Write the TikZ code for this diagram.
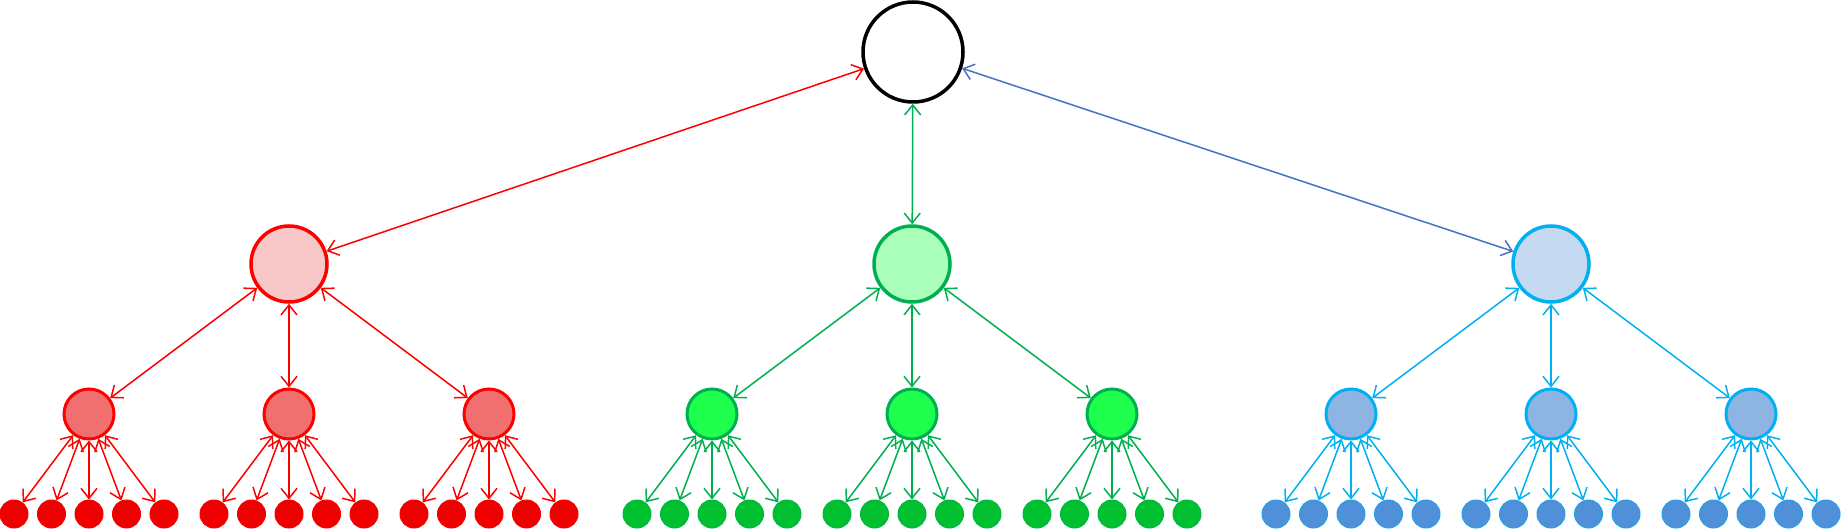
\documentclass[tikz,border=0pt]{standalone}
\usetikzlibrary{arrows.meta}
\definecolor{rl}{HTML}{FF0000}\definecolor{rf1}{HTML}{F8C8C8}\definecolor{rf2}{HTML}{F07070}\definecolor{rf3}{HTML}{EE0000}
\definecolor{gl}{HTML}{00B050}\definecolor{gf1}{HTML}{AAFFBB}\definecolor{gf2}{HTML}{1EFF4E}\definecolor{gf3}{HTML}{00C030}
\definecolor{bl}{HTML}{00B0F0}\definecolor{bl0}{HTML}{4472C4}\definecolor{bf1}{HTML}{C5D9F1}\definecolor{bf2}{HTML}{8EB4E3}\definecolor{bf3}{HTML}{5090D8}
\begin{document}
\begin{tikzpicture}[x=1pt,y=-1pt,
  con/.style={line width=1.5pt,{Straight Barb[length=10pt,width=16pt]}-{Straight Barb[length=10pt,width=16pt]}},
  lone/.style={circle,line width=3.5pt,minimum size=76pt,inner sep=0pt},
  ltwo/.style={circle,line width=3pt,minimum size=50pt,inner sep=0pt},
  lthree/.style={circle,line width=1pt,minimum size=28pt,inner sep=0pt}]
\useasboundingbox (0,0) rectangle (1841,529);
\node[circle,draw=black,line width=3.5pt,minimum size=100pt,inner sep=0pt,fill=white] (root) at (913,52) {};
\foreach \c/\x/\lc/\fa/\fb/\fc/\rc in {r/289/rl/rf1/rf2/rf3/rl, g/912/gl/gf1/gf2/gf3/gl, b/1551/bl/bf1/bf2/bf3/bl}{
  \node[lone,draw=\lc,fill=\fa] (\c) at (\x,264) {};
  \foreach \i/\dx in {1/-200,2/0,3/200}{
    \node[ltwo,draw=\lc,fill=\fb] (\c\i) at (\x+\dx,414) {};
    \draw[con,draw=\lc] (\c) -- (\c\i);
    \foreach \j/\ex in {1/-75,2/-37.5,3/0,4/37.5,5/75}{
      \node[lthree,draw=\lc!50!\fc,fill=\fc] (\c\i\j) at (\x+\dx+\ex,514) {};
      \draw[con,draw=\lc] (\c\i) -- (\c\i\j);
    }
  }
}
\draw[con,draw=rl] (root) -- (r);
\draw[con,draw=gl] (root) -- (g);
\draw[con,draw=bl0] (root) -- (b);
\end{tikzpicture}
\end{document}
